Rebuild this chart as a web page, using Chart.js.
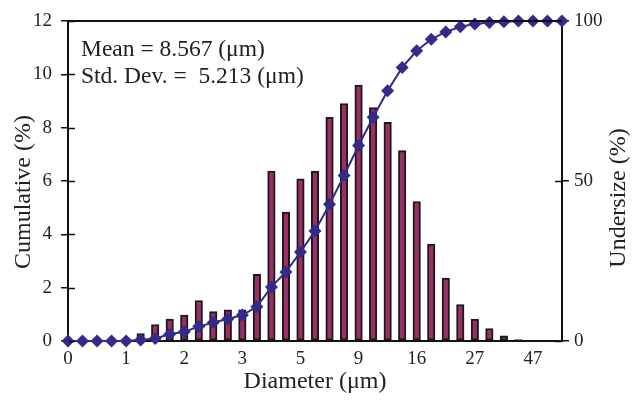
<!DOCTYPE html>
<html>
<head>
<meta charset="utf-8">
<script src="https://cdn.jsdelivr.net/npm/chart.js@4/dist/chart.umd.min.js"></script>
<style>
  html, body { margin: 0; padding: 0; background: #fff; }
  #wrap { width: 638px; height: 401px; position: relative; }
</style>
</head>
<body>
<div id="wrap"><canvas id="chart"></canvas></div>
<script>
// size classes, only every 4th one gets a tick label
const diameters = [
  '0', '', '', '', '1', '', '', '', '2', '', '', '', '3', '', '', '', '5', '', '', '',
  '9', '', '', '', '16', '', '', '', '27', '', '', '', '47', '', ''
];

// per-class share (%), left axis
const cumulative = [
  0, 0, 0, 0, 0, 0.28, 0.62, 0.82, 0.97, 1.52, 1.10, 1.17, 1.17, 2.50, 6.37, 4.83, 6.08, 6.37,
  8.39, 8.90, 9.60, 8.75, 8.20, 7.14, 5.23, 3.63, 2.36, 1.37, 0.82, 0.47, 0.19, 0.05, 0, 0, 0
];

// running total (%), right axis
const undersize = [
  0, 0, 0, 0, 0, 0.3, 0.8, 2.1, 2.9, 4.5, 5.8, 6.9, 8.1, 10.7, 16.9, 21.6, 27.8, 34.4,
  42.7, 51.7, 61.1, 69.9, 78.2, 85.5, 90.7, 94.3, 96.6, 98.2, 99.1, 99.5, 99.8, 100, 100, 100, 100
];

const leftTicks = [0, 2, 4, 6, 8, 10, 12];
const rightTicks = [0, 50, 100];

const stats = ['Mean = 8.567 (\u03bcm)', 'Std. Dev. =  5.213 (\u03bcm)'];

const SERIF = "'Liberation Serif', 'Times New Roman', serif";
const INK = '#222';
const BAR = '#9a2f67';
const LINE = '#35298a';

// inner halves of the crossing ticks, top frame line, titles and stats text
const extras = {
  id: 'extras',
  afterDraw(chart) {
    const { ctx, chartArea: a, scales } = chart;
    ctx.save();
    ctx.strokeStyle = '#111';
    ctx.lineWidth = 1.5;
    ctx.beginPath();
    scales.y.ticks.forEach(t => {
      const py = Math.round(scales.y.getPixelForValue(t.value)) + 0.5;
      ctx.moveTo(a.left, py); ctx.lineTo(a.left + 7, py);
    });
    scales.y2.ticks.forEach(t => {
      const py = Math.round(scales.y2.getPixelForValue(t.value)) + 0.5;
      ctx.moveTo(a.right, py); ctx.lineTo(a.right - 7, py);
    });
    ctx.stroke();

    ctx.lineWidth = 2;
    ctx.beginPath();
    ctx.moveTo(a.left, a.top); ctx.lineTo(a.right, a.top);
    ctx.stroke();

    ctx.fillStyle = INK;
    ctx.font = '24px ' + SERIF;
    ctx.textAlign = 'center';
    ctx.textBaseline = 'middle';
    ctx.fillText('Diameter (\u03bcm)', (a.left + a.right) / 2, 382);

    ctx.save();
    ctx.translate(24, 192);
    ctx.rotate(-Math.PI / 2);
    ctx.fillText('Cumulative (%)', 0, 0);
    ctx.restore();

    ctx.save();
    ctx.translate(619, 198);
    ctx.rotate(-Math.PI / 2);
    ctx.fillText('Undersize (%)', 0, 0);
    ctx.restore();

    ctx.font = '23.5px ' + SERIF;
    ctx.textAlign = 'left';
    ctx.textBaseline = 'alphabetic';
    ctx.fillText(stats[0], 81, 56);
    ctx.fillText(stats[1], 81, 83);
    ctx.restore();
  }
};

new Chart(document.getElementById('chart').getContext('2d'), {
  type: 'bar',
  data: {
    labels: diameters,
    datasets: [
      {
        type: 'line',
        data: undersize,
        yAxisID: 'y2',
        borderColor: LINE,
        borderWidth: 2,
        backgroundColor: LINE,
        pointStyle: 'rectRot',
        pointRadius: 6.5,
        pointBorderWidth: 0,
        tension: 0,
        clip: false,
        order: 0
      },
      {
        type: 'bar',
        data: cumulative,
        yAxisID: 'y',
        backgroundColor: BAR,
        borderColor: '#1a1a1a',
        borderWidth: 2,
        borderSkipped: false,
        barThickness: 7.5,
        order: 1
      }
    ]
  },
  options: {
    responsive: true,
    maintainAspectRatio: false,
    animation: false,
    layout: { padding: { top: 21, left: 0, right: 0, bottom: 0 } },
    plugins: { legend: { display: false }, tooltip: { enabled: false } },
    scales: {
      x: {
        type: 'category',
        offset: false,
        grid: { display: false, drawTicks: false },
        border: { display: true, color: '#111', width: 2 },
        ticks: {
          autoSkip: false,
          maxRotation: 0,
          padding: 7,
          color: INK,
          font: { family: SERIF, size: 19 }
        },
        afterFit(scale) { scale.height = 60; }
      },
      y: {
        position: 'left',
        min: 0,
        max: 12,
        afterBuildTicks(scale) { scale.ticks = leftTicks.map(v => ({ value: v })); },
        grid: { drawOnChartArea: false, drawTicks: true, tickLength: 7, color: '#111', lineWidth: 1.5 },
        border: { display: true, color: '#111', width: 2 },
        ticks: { padding: 9, color: INK, font: { family: SERIF, size: 19 } },
        afterFit(scale) { scale.width = 68; }
      },
      y2: {
        position: 'right',
        min: 0,
        max: 100,
        afterBuildTicks(scale) { scale.ticks = rightTicks.map(v => ({ value: v })); },
        grid: { drawOnChartArea: false, drawTicks: true, tickLength: 7, color: '#111', lineWidth: 1.5 },
        border: { display: true, color: '#111', width: 2 },
        ticks: { padding: 5, color: INK, font: { family: SERIF, size: 19 } },
        afterFit(scale) { scale.width = 76; }
      }
    }
  },
  plugins: [extras]
});
</script>
</body>
</html>
